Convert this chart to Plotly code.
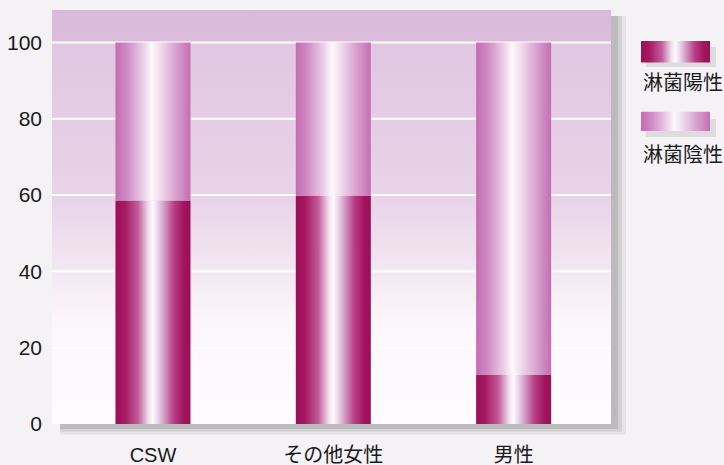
import plotly.graph_objects as go

# ---- data ----
categories = ["CSW", "その他女性", "男性"]
positive = [58.6, 59.9, 13.0]          # 淋菌陽性 (%)
negative = [100 - v for v in positive]  # 淋菌陰性 (%)
y_ticks = [0, 20, 40, 60, 80, 100]
series_names = ["淋菌陽性", "淋菌陰性"]

# ---- style ----
W, H = 724, 465
X_RANGE = [-0.56, 2.54]
Y_RANGE = [0, 108.5]
HALF_W = 0.208
PAPER_BG = "#f4f2f5"
TXT = "#1a1a1a"
FONT_LAT = "Liberation Sans, Noto Sans CJK JP"
FONT_JP = "Noto Sans CJK JP"

dark_scale = [[0.0, "#9c0e58"], [0.12, "#a61862"], [0.30, "#c25c9a"],
              [0.44, "#f0e0ee"], [0.50, "#fdfafd"], [0.58, "#e4cce4"],
              [0.78, "#b63e86"], [0.92, "#a2125d"], [1.0, "#9c0e58"]]
light_scale = [[0.0, "#c46cb0"], [0.15, "#ce8ac2"], [0.35, "#e8c8e4"],
               [0.48, "#fdf8fc"], [0.56, "#f4e6f2"], [0.78, "#daa8d2"],
               [1.0, "#c46eb2"]]
bg_scale = [[0.0, "#fefcfe"], [0.25, "#fbf6fa"], [0.40, "#f1e4f0"],
            [0.55, "#e8d3e8"], [0.80, "#e3cbe3"], [0.92, "#e1c7e1"],
            [0.925, "#dbbcdb"], [1.0, "#dabada"]]

fig = go.Figure()

# plot background gradient
fig.add_trace(go.Scatter(
    x=[X_RANGE[0], X_RANGE[1], X_RANGE[1], X_RANGE[0], X_RANGE[0]],
    y=[Y_RANGE[0], Y_RANGE[0], Y_RANGE[1], Y_RANGE[1], Y_RANGE[0]],
    fill="toself", mode="none", hoverinfo="skip", showlegend=False,
    fillgradient=dict(type="vertical", colorscale=bg_scale)))

# white gridlines (above background, below bars)
for t in y_ticks[1:]:
    fig.add_trace(go.Scatter(x=X_RANGE, y=[t, t], mode="lines",
                             line=dict(color="white", width=2),
                             hoverinfo="skip", showlegend=False))

# stacked bars with cylindrical gradient
for i, cat in enumerate(categories):
    x0, x1 = i - HALF_W, i + HALF_W
    segs = [(0, positive[i], dark_scale, series_names[0]),
            (positive[i], positive[i] + negative[i], light_scale, series_names[1])]
    for b, t, cs, nm in segs:
        fig.add_trace(go.Scatter(
            x=[x0, x1, x1, x0, x0], y=[b, b, t, t, b],
            fill="toself", mode="none", name=nm, showlegend=False,
            hovertemplate=f"{cat}<br>{nm}: {t - b:.1f}%<extra></extra>",
            fillgradient=dict(type="horizontal", colorscale=cs)))

# legend swatches on an auxiliary axis
leg_y = [[0.0, 1.0], [3.3, 4.2]]
for (b, t), cs in zip(leg_y, [dark_scale, light_scale]):
    fig.add_trace(go.Scatter(
        x=[0, 1, 1, 0, 0], y=[b, b, t, t, b], xaxis="x2", yaxis="y2",
        fill="toself", mode="none", hoverinfo="skip", showlegend=False,
        fillgradient=dict(type="horizontal", colorscale=cs)))

shapes = []
px = lambda v: v / W
py = lambda v: 1 - v / H
# soft drop shadow (right & bottom of plot panel)
for (w, a) in [(15, 0.10), (11, 0.15), (7, 0.2)]:
    shapes.append(dict(type="rect", xref="paper", yref="paper", layer="below",
                       x0=px(611), x1=px(611 + w), y0=py(424 + w * 0.7), y1=py(16),
                       fillcolor=f"rgba(100,100,100,{a})", line_width=0))
    shapes.append(dict(type="rect", xref="paper", yref="paper", layer="below",
                       x0=px(60), x1=px(611), y0=py(424 + w * 0.7), y1=py(424),
                       fillcolor=f"rgba(100,100,100,{a})", line_width=0))
# legend swatch shadows
for yy in [(41, 61), (113, 131)]:
    shapes.append(dict(type="rect", xref="paper", yref="paper", layer="below",
                       x0=px(646), x1=px(716), y0=py(yy[1] + 6), y1=py(yy[0] + 6),
                       fillcolor="rgba(120,120,120,0.18)", line_width=0))

annotations = [
    dict(text=series_names[0], xref="paper", yref="paper", x=px(683), y=py(81),
         xanchor="center", yanchor="middle", showarrow=False,
         font=dict(family=FONT_JP, size=20, color=TXT)),
    dict(text=series_names[1], xref="paper", yref="paper", x=px(683), y=py(153),
         xanchor="center", yanchor="middle", showarrow=False,
         font=dict(family=FONT_JP, size=20, color=TXT)),
]

fig.update_layout(
    width=W, height=H,
    margin=dict(l=0, r=0, t=0, b=0),
    paper_bgcolor=PAPER_BG, plot_bgcolor="rgba(0,0,0,0)",
    showlegend=False,
    shapes=shapes, annotations=annotations,
    xaxis=dict(domain=[px(52), px(611)], range=X_RANGE, tickvals=list(range(len(categories))),
               ticktext=categories, showgrid=False, zeroline=False, showline=False,
               ticks="", ticklabelstandoff=17, automargin=False, fixedrange=True,
               tickfont=dict(family=FONT_LAT, size=20, color=TXT)),
    yaxis=dict(domain=[1 - 424 / H, 1 - 10 / H], range=Y_RANGE, tickvals=y_ticks,
               showgrid=False, zeroline=False, showline=False, ticks="",
               ticklabelstandoff=9, automargin=False, fixedrange=True,
               tickfont=dict(family=FONT_LAT, size=21, color=TXT)),
    xaxis2=dict(domain=[px(641), px(710)], range=[0, 1], visible=False,
                anchor="y2", fixedrange=True),
    yaxis2=dict(domain=[py(131), py(41)], range=[4.2, 0], visible=False,
                anchor="x2", fixedrange=True),
)

fig.write_html("out.html")
